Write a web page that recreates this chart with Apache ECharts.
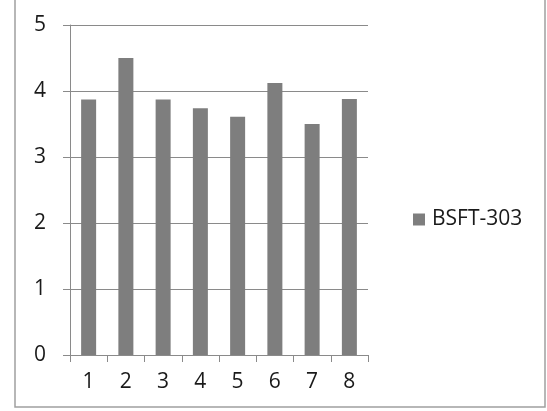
<!DOCTYPE html>
<html>
<head>
<meta charset="utf-8">
<script src="https://cdn.jsdelivr.net/npm/echarts@6/dist/echarts.min.js"></script>
<style>
html,body{margin:0;padding:0;background:#fff;}
#c{width:547px;height:411px;}
</style>
</head>
<body>
<div id="c"></div>
<script>
const categories = ['1','2','3','4','5','6','7','8'];
const seriesName = 'BSFT-303';
const values = [3.87, 4.50, 3.87, 3.74, 3.61, 4.12, 3.50, 3.88];
const yTicks = [0, 1, 2, 3, 4, 5];

const chart = echarts.init(document.getElementById('c'), null, {renderer: 'canvas'});
const font = '"Open Sans", "Liberation Sans", sans-serif';
chart.setOption({
  animation: false,
  backgroundColor: '#ffffff',
  graphic: [{
    type: 'rect',
    shape: {x: 15, y: -3, width: 530, height: 410},
    style: {fill: 'none', stroke: '#a0a0a0', lineWidth: 1.5}
  }],
  legend: {
    data: [seriesName],
    left: 408,
    top: 204,
    itemWidth: 12,
    itemHeight: 12,
    icon: 'rect',
    textStyle: {fontFamily: font, fontSize: 21, color: '#1a1a1a', padding: [0, 0, 0, 2]}
  },
  grid: {left: 70, right: 179, top: 25, bottom: 56, containLabel: false},
  xAxis: {
    type: 'category',
    data: categories,
    boundaryGap: true,
    axisLine: {show: true, lineStyle: {color: '#8a8a8a', width: 1}},
    axisTick: {show: true, length: 7, inside: false, alignWithLabel: false, lineStyle: {color: '#8a8a8a'}},
    axisLabel: {fontFamily: font, fontSize: 21, color: '#1a1a1a', margin: 17}
  },
  yAxis: {
    type: 'value',
    min: yTicks[0],
    max: yTicks[yTicks.length - 1],
    interval: 1,
    axisLine: {show: true, lineStyle: {color: '#8a8a8a', width: 1}},
    axisTick: {show: true, length: 7, inside: false, lineStyle: {color: '#8a8a8a'}},
    splitLine: {show: true, lineStyle: {color: '#8a8a8a', width: 1}},
    axisLabel: {fontFamily: font, fontSize: 21, color: '#1a1a1a', margin: 24}
  },
  series: [{
    name: seriesName,
    type: 'bar',
    data: values,
    barWidth: 15,
    itemStyle: {color: '#7e7e7e'}
  }]
});
</script>
</body>
</html>
